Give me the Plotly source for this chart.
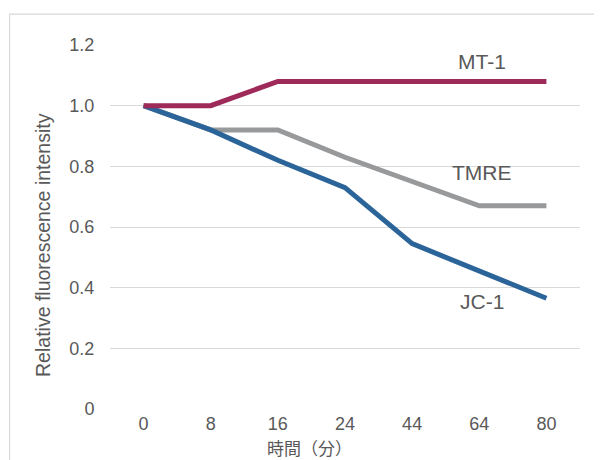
import plotly.graph_objects as go

categories = ["0", "8", "16", "24", "44", "64", "80"]
mt1 = [1.0, 1.0, 1.08, 1.08, 1.08, 1.08, 1.08]
tmre = [1.0, 0.92, 0.92, 0.83, 0.75, 0.67, 0.67]
jc1 = [1.0, 0.92, 0.82, 0.73, 0.545, 0.456, 0.365]
y_ticks = [0, 0.2, 0.4, 0.6, 0.8, 1.0, 1.2]
y_ticktext = ["0", "0.2", "0.4", "0.6", "0.8", "1.0", "1.2"]
x_title = "時間（分）"
y_title = "Relative fluorescence intensity"

# name, values, colour, label y position (data units)
series = [
    ("TMRE", tmre, "#98999B", 0.78),
    ("JC-1", jc1, "#2B6499", 0.354),
    ("MT-1", mt1, "#9E2A5A", 1.144),
]

FONT = "Liberation Sans, Arial, sans-serif"
fig = go.Figure()
for name, vals, color, _ in series:
    fig.add_trace(go.Scatter(x=categories, y=vals, mode="lines", name=name,
                             line=dict(color=color, width=5),
                             showlegend=False))

for name, vals, color, ly in series:
    fig.add_annotation(x=5, y=ly, xref="x", yref="y", text=name,
                       showarrow=False, xshift=3,
                       font=dict(size=21, color="#595959", family=FONT))

# axis titles (offset from the plot centre as in the reference)
fig.add_annotation(x=0.4255, y=-0.105, xref="paper", yref="paper",
                   text=x_title, showarrow=False,
                   xanchor="center", yanchor="middle",
                   font=dict(size=17, color="#595959",
                             family="Noto Sans CJK JP, " + FONT))
fig.add_annotation(x=-0.1415, y=0.452, xref="paper", yref="paper",
                   text=y_title, showarrow=False, textangle=-90,
                   xanchor="center", yanchor="middle",
                   font=dict(size=19.5, color="#595959", family=FONT))

fig.add_shape(type="rect", xref="paper", yref="paper",
              x0=-0.2136, x1=1.1, y0=-0.3, y1=1.0846,
              line=dict(color="#D9D9D9", width=1.2), layer="below")

fig.update_layout(
    width=594, height=452,
    margin=dict(l=102, r=22, t=37, b=51),
    plot_bgcolor="white", paper_bgcolor="white",
    font=dict(family=FONT, color="#595959", size=18),
    xaxis=dict(type="category", range=[-0.5, 6.5], showgrid=False,
               showline=False, zeroline=False, ticks="",
               ticklabelstandoff=2,
               tickfont=dict(size=18, color="#595959")),
    yaxis=dict(range=[0, 1.2], tickvals=y_ticks, ticktext=y_ticktext,
               showgrid=True, gridcolor="#D9D9D9", gridwidth=1.2,
               zeroline=False, showline=False,
               ticks="outside", ticklen=11, tickcolor="rgba(0,0,0,0)",
               tickfont=dict(size=18, color="#595959")),
)

fig.write_html("out.html")
